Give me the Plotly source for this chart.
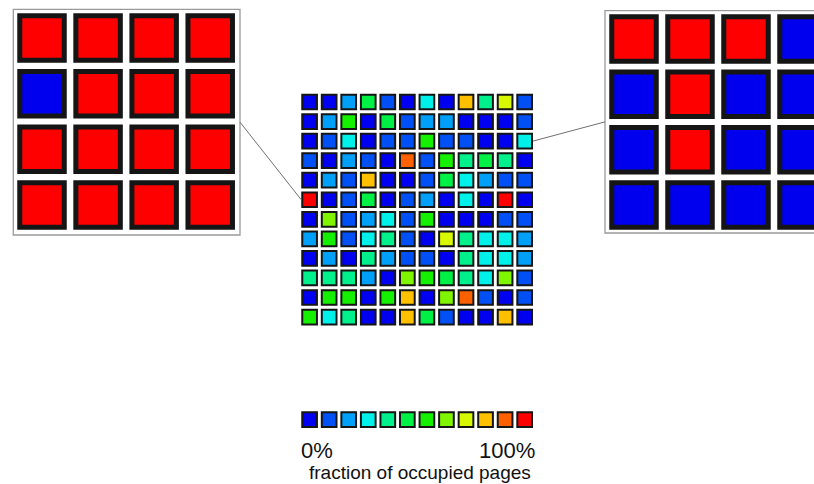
import plotly.graph_objects as go

# Occupancy level (0 = empty .. 11 = full) of each block in the 12x12 grid, top row first
levels = [
    [0, 0, 2, 5, 1, 0, 3, 0, 9, 4, 8, 1],
    [0, 2, 6, 0, 5, 1, 2, 2, 0, 0, 0, 1],
    [0, 1, 3, 0, 1, 1, 6, 1, 1, 0, 0, 3],
    [1, 0, 2, 1, 0, 10, 1, 6, 4, 5, 4, 0],
    [0, 2, 1, 9, 0, 0, 1, 5, 3, 2, 1, 1],
    [11, 0, 1, 5, 0, 1, 2, 0, 3, 0, 11, 0],
    [0, 7, 1, 2, 3, 1, 6, 0, 0, 0, 1, 1],
    [2, 6, 1, 3, 4, 1, 0, 8, 4, 3, 3, 2],
    [0, 2, 0, 4, 2, 1, 1, 0, 4, 3, 3, 2],
    [4, 4, 4, 2, 0, 7, 6, 5, 4, 3, 7, 1],
    [0, 6, 6, 0, 6, 9, 0, 7, 10, 1, 0, 1],
    [6, 3, 4, 0, 0, 9, 5, 1, 0, 0, 9, 0],
]

# Colour of each occupancy level (legend order, 0% .. 100%)
palette = [
    "#0000F0", "#0050F5", "#00A0F8", "#00F0EA", "#00F08C", "#00F046",
    "#14F000", "#80F500", "#D7F800", "#FFC000", "#FF6000", "#FF0000",
]
legend_levels = list(range(12))

# Pages inside the two magnified blocks (1 = occupied, 0 = free)
left_block = (5, 0)
left_pages = [
    [1, 1, 1, 1],
    [0, 1, 1, 1],
    [1, 1, 1, 1],
    [1, 1, 1, 1],
]
right_block = (2, 11)
right_pages = [
    [1, 1, 1, 0],
    [0, 1, 0, 0],
    [0, 1, 0, 0],
    [0, 0, 0, 0],
]
page_colors = {0: "#0000EE", 1: "#FF0000"}

W, H = 814, 484
FONT = "Liberation Sans, Arial, sans-serif"


def px(x):
    return x / W


def py(y):
    return 1 - y / H


# Panel placement in pixels: (first centre x, pitch x, first centre y, pitch y)
GRID = dict(cx=309.6, dx=19.55, cy=102.0, dy=19.55)
LEFT = dict(cx=42.0, dx=56.07, cy=38.0, dy=55.67)
RIGHT = dict(cx=634.0, dx=56.0, cy=39.0, dy=55.33)
LEG_CY = 419.7


def domain_x(p, n):
    lo = p["cx"] - p["dx"] / 2
    hi = p["cx"] + (n - 0.5) * p["dx"]
    return lo, hi


def domain_y(p, n):
    lo = p["cy"] - p["dy"] / 2
    hi = p["cy"] + (n - 0.5) * p["dy"]
    return lo, hi


fig = go.Figure()


def add_cells(rows, colors, xa, ya, size, lw):
    xs, ys, cs = [], [], []
    for r, row in enumerate(rows):
        for c, v in enumerate(row):
            xs.append(c)
            ys.append(r)
            cs.append(colors[v])
    fig.add_trace(go.Scatter(
        x=xs, y=ys, mode="markers", xaxis=xa, yaxis=ya, hoverinfo="skip",
        marker=dict(symbol="square", size=size, color=cs,
                    line=dict(color="#151515", width=lw)),
        showlegend=False,
    ))


add_cells(levels, palette, "x", "y", 14.7, 2)
add_cells(left_pages, page_colors, "x2", "y2", 44.5, 5)
add_cells(right_pages, page_colors, "x3", "y3", 44.5, 5)
add_cells([legend_levels], palette, "x4", "y4", 14.7, 2)

axis_common = dict(visible=False, showgrid=False, zeroline=False, fixedrange=True)

gx0, gx1 = domain_x(GRID, 12)
gy0, gy1 = domain_y(GRID, 12)
lx0, lx1 = domain_x(LEFT, 4)
ly0, ly1 = domain_y(LEFT, 4)
rx0, rx1 = domain_x(RIGHT, 4)
ry0, ry1 = domain_y(RIGHT, 4)
rx1_clip = min(rx1, W)

fig.update_layout(
    width=W, height=H, margin=dict(l=0, r=0, t=0, b=0),
    paper_bgcolor="white", plot_bgcolor="rgba(0,0,0,0)",
    xaxis=dict(domain=[px(gx0), px(gx1)], range=[-0.5, 11.5], **axis_common),
    yaxis=dict(domain=[py(gy1), py(gy0)], range=[11.5, -0.5], **axis_common),
    xaxis2=dict(domain=[px(lx0), px(lx1)], range=[-0.5, 3.5], anchor="y2", **axis_common),
    yaxis2=dict(domain=[py(ly1), py(ly0)], range=[3.5, -0.5], anchor="x2", **axis_common),
    xaxis3=dict(domain=[px(rx0), px(rx1_clip)],
                range=[-0.5, -0.5 + (rx1_clip - rx0) / RIGHT["dx"]],
                anchor="y3", **axis_common),
    yaxis3=dict(domain=[py(ry1), py(ry0)], range=[3.5, -0.5], anchor="x3", **axis_common),
    xaxis4=dict(domain=[px(gx0), px(gx1)], range=[-0.5, 11.5], anchor="y4", **axis_common),
    yaxis4=dict(domain=[py(LEG_CY + GRID["dy"] / 2), py(LEG_CY - GRID["dy"] / 2)],
                range=[0.5, -0.5], anchor="x4", **axis_common),
)

# Frames around the two magnified blocks
left_box = (13.3, 9.3, 240.0, 235.0)
right_box = (605.0, 10.7, 831.7, 233.0)
for x0, y0, x1, y1 in (left_box, right_box):
    fig.add_shape(type="rect", xref="paper", yref="paper", layer="below",
                  x0=px(x0), x1=px(x1), y0=py(y0), y1=py(y1),
                  line=dict(color="#9a9a9a", width=1.3), fillcolor="white")


# Leader lines from each frame to its block in the grid
def cell_edge(rc, side):
    r, c = rc
    cx = GRID["cx"] + c * GRID["dx"]
    cy = GRID["cy"] + r * GRID["dy"]
    half = 8.35
    return (cx - half if side == "left" else cx + half), cy


ex, ey = cell_edge(left_block, "left")
fig.add_shape(type="line", xref="paper", yref="paper",
              x0=px(left_box[2]), y0=py((left_box[1] + left_box[3]) / 2),
              x1=px(ex), y1=py(ey), line=dict(color="#707070", width=1))
ex, ey = cell_edge(right_block, "right")
fig.add_shape(type="line", xref="paper", yref="paper",
              x0=px(right_box[0]), y0=py((right_box[1] + right_box[3]) / 2),
              x1=px(ex), y1=py(ey), line=dict(color="#707070", width=1))

# Legend labels
fig.add_annotation(text="0%", xref="paper", yref="paper", x=px(298.5), y=py(450.5),
                   xanchor="left", yanchor="middle", showarrow=False,
                   font=dict(family=FONT, size=22, color="#111111"))
fig.add_annotation(text="100%", xref="paper", yref="paper", x=px(536.5), y=py(450.5),
                   xanchor="right", yanchor="middle", showarrow=False,
                   font=dict(family=FONT, size=22, color="#111111"))
fig.add_annotation(text="fraction of occupied pages", xref="paper", yref="paper",
                   x=px(419.5), y=py(472.0), xanchor="center", yanchor="middle",
                   showarrow=False, font=dict(family=FONT, size=19, color="#111111"))

fig.write_html("out.html", config={"displayModeBar": False, "staticPlot": True})
